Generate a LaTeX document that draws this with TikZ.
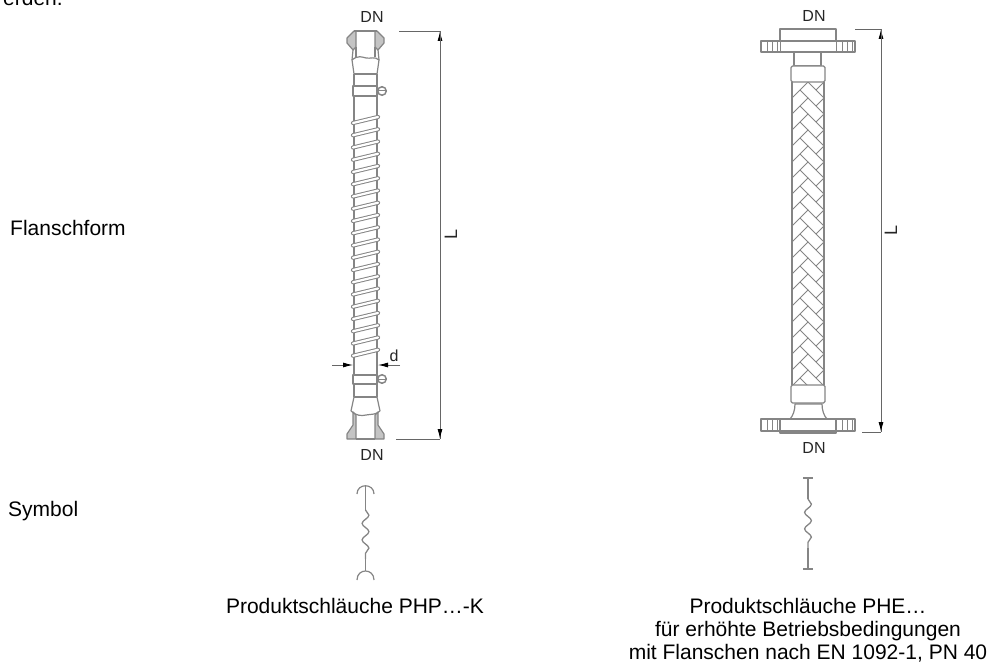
\documentclass[tikz,border=0pt]{standalone}
\usepackage{fontspec}
\setmainfont{Liberation Sans}
\usepackage{xcolor}
\definecolor{cLine}{HTML}{858585}
\definecolor{cFill}{HTML}{C4C4C4}
\definecolor{cDim}{HTML}{666666}
\usetikzlibrary{arrows.meta, decorations.pathmorphing, positioning}
\tikzset{
	x = 1pt,
	y = -1pt,
	line width = 1pt,
	font = \fontsize{21}{23}\selectfont,
	part/.style={
		draw=cLine,
		line width=1.2pt,
		line join=round
	},
	thin part/.style={
		draw=cLine,
		line width=1pt
	},
	seat/.style={
		part,
		fill=cFill
	},
	coil/.style={
		draw=cLine,
		double=white,
		double distance=2.2pt,
		line width=1pt,
		line cap=round
	},
	dim/.style={
		draw=cDim,
		line width=.9pt
	},
	dimtip/.style={
		dim,
		-{Latex[length=10pt,width=5pt,color=black]}
	},
	caption/.style={
		text=black,
		align=center,
		inner sep=0pt
	},
	mark label/.style={
		caption,
		text=black!85,
		font=\fontsize{16}{18}\selectfont
	},
	length label/.style={
		mark label,
		font=\fontsize{18}{20}\selectfont
	},
	screw/.style={
		draw=cLine,
		circle,
		line width=1.5pt,
		inner sep=0pt,
		minimum size=8.5pt
	},
	wave/.style={
		draw=cLine,
		line width=1.3pt,
		decorate,
		decoration={snake, amplitude=3.4pt, segment length=16.5pt}
	}
}

\begin{document}
\begin{tikzpicture}
	\useasboundingbox (0,0) rectangle (994,666);

	% labels
	\node[caption, anchor=base west] (rest) at (3,6) {erden.};
	\node[caption, anchor=west] (form) at (10,228) {Flanschform};
	\node[caption, anchor=west] (sym) at (8,511) {Symbol};
	\node[caption] (capk) at (355,606) {Produktschläuche PHP…-K};
	\node[caption] (cape) at (808,630) {Produktschläuche PHE…\\für erhöhte Betriebsbedingungen\\mit Flanschen nach EN 1092-1, PN 40};

	% hose with threaded ends
	\draw[seat] (354,31) -- (347,38) -- (347,43) -- (353,50) -- (356,47) -- (356,31) -- cycle;
	\draw[seat] (377,31) -- (384,38) -- (384,43) -- (378,50) -- (375,47) -- (375,31) -- cycle;
	\draw[part] (354,31) -- (377,31);
	\draw[part] (356,47) -- (356,57) (375,47) -- (375,57);
	\draw[part] (353,50) -- (352,60) -- (354,74) (378,50) -- (379,60) -- (377,74);
	\draw[part] (352,60) .. controls (358,55) and (362,57) .. (366,58) .. controls (370,59) and (375,56) .. (379,60);
	\draw[part] (354,74) -- (377,74);
	\draw[part] (354,74) -- (354,375) (377,74) -- (377,375);
	\draw[part, fill=white] (353,86) rectangle (377,96);
	\node[screw] (s1) at (382,91) {};
	\draw[thin part] (s1.west) -- (s1.east);
	\foreach \i in {0,...,19}
		\draw[coil] (353,123+12.25*\i) -- (378,117+12.25*\i);
	\draw[part, fill=white] (353,375) rectangle (377,384);
	\node[screw] (s2) at (382,379) {};
	\draw[thin part] (s2.west) -- (s2.east);
	\draw[part] (354,384) -- (354,397) (377,384) -- (377,397) (354,397) -- (377,397);
	\draw[part] (354,397) -- (351,411) (377,397) -- (380,411);
	\draw[part] (351,411) .. controls (356,416) and (362,416) .. (366,415) .. controls (371,414) and (376,415) .. (380,411);
	\draw[seat] (353,412) -- (353,425) -- (347,434) -- (347,439) -- (356,439) -- (356,415) -- cycle;
	\draw[seat] (378,412) -- (378,425) -- (384,434) -- (384,439) -- (375,439) -- (375,415) -- cycle;
	\draw[part] (356,439) -- (375,439);

	% dimensions of the left hose
	\coordinate (ktop) at (399,31);
	\coordinate (kbot) at (396,439);
	\coordinate (kup) at (440,31);
	\coordinate (kdown) at (440,439);
	\coordinate (dl) at (332,365);
	\coordinate (dla) at (353,365);
	\coordinate (dr) at (400,365);
	\coordinate (dra) at (378,365);
	\draw[dim] (ktop) -- (kup);
	\draw[dim] (kbot) -- (kdown);
	\draw[dimtip] (kdown) -- (kup);
	\draw[dimtip] (kup) -- (kdown);
	\draw[dimtip] (dl) -- (dla);
	\draw[dimtip] (dr) -- (dra);
	\node[mark label] (dnk1) at (372,17) {DN};
	\node[mark label] (dnk2) at (372,455) {DN};
	\node[length label] (lk) at (451,234) {\rotatebox{90}{L}};
	\node[mark label] (dk) at (394,356) {d};

	% symbol of the left hose
	\coordinate (k1) at (365.5,486);
	\coordinate (k2) at (365.5,510);
	\coordinate (k3) at (365.5,559);
	\coordinate (k4) at (365.5,571);
	\draw[part] (357,494) .. controls (357,483) and (374,483) .. (374,494);
	\draw[part] (357,580) .. controls (357,568) and (374,568) .. (374,580);
	\draw[part] (k1) -- (k2);
	\draw[wave] (k2) -- (k3);
	\draw[part] (k3) -- (k4);

	% hose with flanges and braid
	\begin{scope}
		\clip (792,82) rectangle (824,385);
		\foreach \i in {-1,...,19} {
			\draw[thin part] (792,82+16*\i+16) -- (808,82+16*\i) -- (824,82+16*\i+16);
			\draw[thin part] (800,82+16*\i+8) -- (808,82+16*\i+16);
			\draw[thin part] (824,82+16*\i+16) -- (816,82+16*\i+24);
		}
	\end{scope}
	\draw[part] (792,82) -- (792,385) (824,82) -- (824,385);

	\draw[part, fill=white] (780,29) rectangle (836,41);
	\draw[part, fill=white] (761,41) rectangle (855,52);
	\draw[thin part] (767,41) -- (767,52) (772,41) -- (772,52) (777,41) -- (777,52) (780,41) -- (780,52);
	\draw[thin part] (842,41) -- (842,52) (847,41) -- (847,52) (852,41) -- (852,52) (836,41) -- (836,52);
	\draw[part, fill=white] (794,52) rectangle (821,66);
	\draw[part, fill=white, rounded corners=1.5pt] (791,66) rectangle (825,82);

	\draw[part, fill=white, rounded corners=1.5pt] (791,385) rectangle (825,403);
	\draw[part, fill=white] (795,404) .. controls (795,410) and (793,416) .. (790,419) -- (827,419) .. controls (824,416) and (822,410) .. (822,404) -- cycle;
	\draw[part, fill=white] (761,419) rectangle (855,431);
	\draw[thin part] (767,419) -- (767,431) (772,419) -- (772,431) (777,419) -- (777,431);
	\draw[part] (780,419) -- (780,433) -- (836,433) -- (836,419);
	\draw[thin part] (842,419) -- (842,431) (847,419) -- (847,431) (852,419) -- (852,431);

	% dimensions of the right hose
	\coordinate (etop) at (855,29);
	\coordinate (ebot) at (862,432);
	\coordinate (eup) at (881,29);
	\coordinate (edown) at (881,432);
	\draw[dim] (etop) -- (eup);
	\draw[dim] (ebot) -- (edown);
	\draw[dimtip] (edown) -- (eup);
	\draw[dimtip] (eup) -- (edown);
	\node[mark label] (dne1) at (814,16) {DN};
	\node[mark label] (dne2) at (814,448) {DN};
	\node[length label] (le) at (891,230) {\rotatebox{90}{L}};

	% symbol of the right hose
	\coordinate (e1) at (808,478);
	\coordinate (e2) at (808,499);
	\coordinate (e3) at (808,548);
	\coordinate (e4) at (808,569);
	\draw[part] (803,478) -- (813,478);
	\draw[part] (803,569) -- (813,569);
	\draw[part] (e1) -- (e2);
	\draw[wave] (e2) -- (e3);
	\draw[part] (e3) -- (e4);
\end{tikzpicture}
\end{document}
